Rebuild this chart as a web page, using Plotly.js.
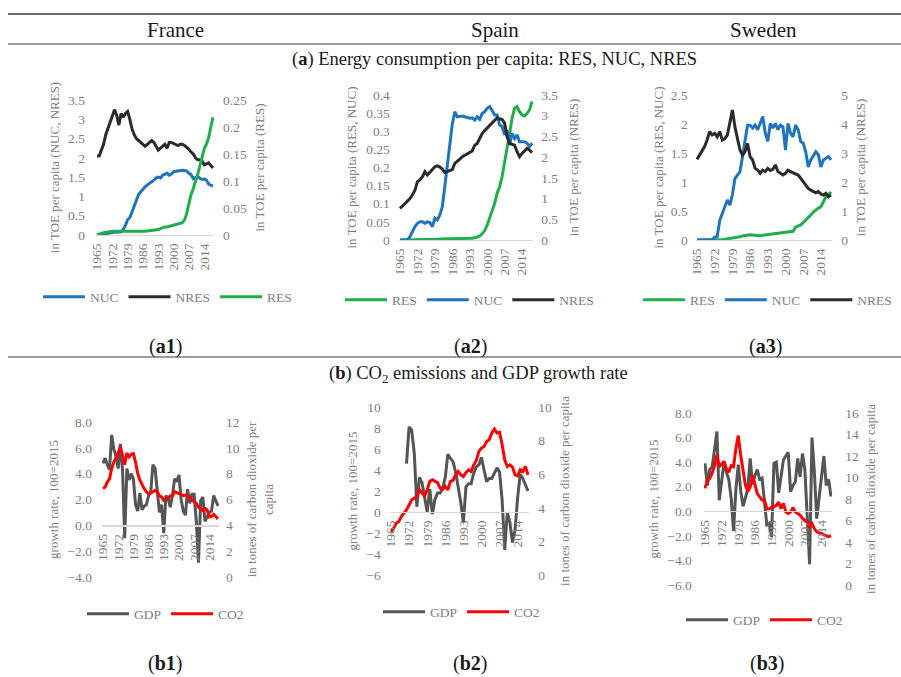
<!DOCTYPE html>
<html>
<head>
<meta charset="utf-8">
<script src="https://cdn.plot.ly/plotly-3.0.1.min.js"></script>
<style>
  html, body { margin: 0; padding: 0; background: #ffffff; }
  #chart { width: 901px; height: 677px; }
</style>
</head>
<body>
<div id="chart"></div>
<script>
// ---- data ---------------------------------------------------------------
const years = [1965,1966,1967,1968,1969,1970,1971,1972,1973,1974,
  1975,1976,1977,1978,1979,1980,1981,1982,1983,1984,
  1985,1986,1987,1988,1989,1990,1991,1992,1993,1994,
  1995,1996,1997,1998,1999,2000,2001,2002,2003,2004,
  2005,2006,2007,2008,2009,2010,2011,2012,2013,2014,
  2015,2016,2017,2018];
const yearTicks = [1965,1972,1979,1986,1993,2000,2007,2014];
const yearTickText = ['1965','1972','1979','1986','1993','2000','2007','2014'];

// France, TOE per capita
const franceNUC = [0.00,0.01,0.02,0.03,0.04,0.05,0.05,0.06,0.07,0.07,
  0.08,0.08,0.15,0.25,0.40,0.45,0.60,0.75,0.90,1.05,
  1.12,1.20,1.25,1.30,1.35,1.38,1.42,1.48,1.50,1.48,
  1.55,1.58,1.60,1.55,1.58,1.64,1.65,1.67,1.68,1.68,
  1.67,1.66,1.60,1.56,1.46,1.48,1.52,1.47,1.44,1.45,
  1.42,1.32,1.30,1.27];
const franceNRES = [2.05,2.05,2.20,2.35,2.60,2.75,2.90,3.05,3.25,3.10,
  2.85,3.15,3.05,3.15,3.20,3.00,2.75,2.60,2.50,2.45,
  2.40,2.35,2.30,2.35,2.40,2.45,2.40,2.30,2.20,2.25,
  2.30,2.35,2.25,2.40,2.40,2.38,2.35,2.32,2.35,2.35,
  2.32,2.28,2.22,2.15,2.10,2.00,1.95,1.95,1.92,1.82,
  1.85,1.87,1.80,1.74];
const franceRES = [0.000,0.002,0.003,0.004,0.005,0.006,0.006,0.007,0.007,0.007,
  0.006,0.006,0.006,0.006,0.006,0.006,0.006,0.006,0.0065,0.0065,
  0.007,0.007,0.007,0.0075,0.008,0.008,0.0085,0.009,0.010,0.012,
  0.014,0.015,0.015,0.016,0.017,0.018,0.019,0.020,0.021,0.023,
  0.028,0.040,0.058,0.075,0.086,0.098,0.112,0.128,0.145,0.160,
  0.168,0.180,0.200,0.218];

// Spain, TOE per capita
const spainRES = [0.000,0.000,0.001,0.001,0.001,0.001,0.001,0.001,0.002,0.002,
  0.002,0.002,0.002,0.002,0.002,0.002,0.003,0.003,0.003,0.003,
  0.003,0.003,0.003,0.003,0.003,0.003,0.003,0.003,0.004,0.005,
  0.006,0.008,0.011,0.017,0.026,0.041,0.060,0.078,0.101,0.129,
  0.147,0.175,0.211,0.257,0.294,0.336,0.363,0.368,0.354,0.345,
  0.342,0.349,0.359,0.382];
const spainNUC = [0.000,0.000,0.000,0.000,0.009,0.023,0.037,0.046,0.050,0.050,
  0.046,0.050,0.048,0.037,0.060,0.055,0.069,0.092,0.152,0.211,
  0.257,0.320,0.354,0.340,0.341,0.342,0.340,0.338,0.336,0.337,
  0.331,0.340,0.333,0.349,0.354,0.363,0.368,0.357,0.345,0.345,
  0.317,0.313,0.290,0.303,0.262,0.294,0.280,0.290,0.271,0.271,
  0.271,0.267,0.257,0.267];
const spainNRES = [0.76,0.82,0.88,0.93,1.00,1.09,1.20,1.41,1.45,1.53,
  1.65,1.57,1.65,1.70,1.77,1.79,1.76,1.71,1.63,1.65,
  1.67,1.70,1.85,1.89,1.95,2.01,2.05,2.09,2.13,2.15,
  2.29,2.33,2.45,2.57,2.64,2.70,2.75,2.82,2.88,2.95,
  2.92,2.91,2.82,2.49,2.33,2.31,2.29,2.13,2.01,2.09,
  2.16,2.21,2.17,2.11];

// Sweden, TOE per capita
const swedenRES = [0.000,0.000,0.000,0.000,0.000,0.000,0.000,0.000,0.000,0.005,
  0.010,0.015,0.020,0.025,0.030,0.035,0.045,0.055,0.070,0.080,
  0.090,0.090,0.085,0.080,0.075,0.075,0.080,0.085,0.090,0.095,
  0.100,0.105,0.110,0.115,0.120,0.130,0.130,0.140,0.150,0.220,
  0.240,0.260,0.300,0.340,0.380,0.430,0.480,0.520,0.550,0.570,
  0.660,0.750,0.780,0.830];
const swedenNUC = [0.00,0.00,0.00,0.00,0.00,0.00,0.00,0.05,0.06,0.34,
  0.46,0.57,0.69,0.60,0.78,1.06,1.12,1.18,1.44,1.72,
  1.98,1.98,1.93,1.98,1.90,2.01,2.13,1.84,1.70,2.01,
  1.93,2.01,1.90,1.98,1.95,1.55,2.01,1.84,1.78,1.98,
  1.90,1.70,1.67,1.52,1.26,1.38,1.44,1.52,1.47,1.26,
  1.38,1.41,1.44,1.38];
const swedenNRES = [2.78,2.93,3.10,3.22,3.45,3.74,3.62,3.68,3.56,3.74,
  3.45,3.50,3.62,4.02,4.48,3.90,3.50,3.10,2.93,3.05,
  3.33,2.87,2.76,2.47,2.41,2.30,2.41,2.36,2.47,2.40,
  2.44,2.59,2.36,2.30,2.24,2.30,2.41,2.36,2.32,2.30,
  2.24,2.13,2.01,1.90,1.78,1.72,1.67,1.63,1.67,1.59,
  1.55,1.61,1.49,1.55];

// GDP growth rate (%) and CO2 (tonnes per capita)
const franceGDP = [4.8,5.2,4.7,4.3,7.0,5.9,5.3,4.4,6.3,4.3,
  -1.0,4.4,3.5,4.0,3.6,1.6,1.1,2.5,1.2,1.5,
  1.6,2.3,2.6,4.7,4.4,2.9,1.0,1.6,-0.6,2.3,
  2.1,1.4,2.3,3.6,3.4,3.9,2.0,1.1,0.8,2.8,
  1.7,2.4,2.4,0.3,-2.9,1.9,2.2,0.3,0.6,1.0,
  1.1,2.3,1.9,1.5];
const franceCO2 = [6.84,6.97,7.35,7.60,8.40,8.90,9.20,9.70,10.06,9.40,
  8.70,9.60,9.30,9.50,9.55,8.90,8.00,7.50,7.10,6.84,
  6.60,6.45,6.50,6.60,6.70,6.60,6.30,6.20,5.94,6.06,
  6.10,6.30,6.30,6.60,6.50,6.45,6.40,6.30,6.35,6.30,
  6.20,5.94,5.80,5.70,5.40,5.30,5.16,5.30,5.20,4.65,
  4.70,4.85,4.65,4.50];
const spainGDP = [null,null,null,null,null,null,4.6,8.1,7.8,5.6,
  0.5,3.3,2.8,1.5,0.0,2.2,-0.2,1.2,1.8,1.8,
  2.3,3.3,5.5,5.1,4.8,3.8,2.5,0.9,-1.0,2.4,
  2.7,2.7,3.7,4.3,4.5,5.2,4.0,2.9,3.2,3.2,
  3.7,4.2,3.8,1.1,-3.6,0.0,-1.0,-2.9,-1.7,1.4,
  3.6,3.2,2.6,2.0];
const spainCO2 = [2.58,2.78,3.08,3.18,3.48,3.68,3.88,4.17,4.47,4.57,
  4.67,5.07,4.87,4.71,5.07,5.57,5.67,5.57,5.50,5.17,
  5.10,5.27,5.07,5.57,5.63,5.96,6.16,5.96,5.86,6.10,
  6.26,6.16,6.56,6.82,7.36,7.55,7.65,7.95,8.05,8.45,
  8.69,8.45,8.49,7.75,6.86,6.46,6.56,6.42,5.96,5.90,
  6.26,6.16,6.46,5.96];
const swedenGDP = [3.9,2.1,3.4,3.6,5.0,6.5,0.9,2.3,4.0,3.2,
  2.6,1.1,-1.6,1.8,3.8,1.7,0.4,1.1,1.8,4.3,
  2.2,2.9,3.4,2.6,2.7,0.8,-1.1,-1.0,-2.1,3.9,
  4.0,1.5,2.9,4.2,4.5,4.8,1.6,2.1,2.4,4.3,
  2.8,4.7,3.4,-0.6,-4.3,6.0,3.2,-0.6,1.2,2.7,
  4.5,2.1,2.6,1.2];
const swedenCO2 = [8.98,9.75,9.90,10.4,11.1,12.1,11.0,11.3,11.5,10.8,
  10.5,11.1,11.0,12.7,13.9,12.1,10.7,9.3,8.7,9.1,
  10.2,9.4,8.5,8.2,7.9,7.9,7.1,7.1,7.2,7.3,
  7.4,7.7,7.1,7.6,6.8,6.65,6.8,7.2,6.8,6.65,
  6.5,6.2,6.0,5.85,5.4,5.7,5.25,4.95,4.85,4.8,
  4.65,4.6,4.5,4.6];

// ---- styling ------------------------------------------------------------
const W = 901, H = 677;
const px2x = p => p / W;
const px2y = p => 1 - p / H;
const SERIF = 'Liberation Serif, Times New Roman, serif';
const GRAY = '#808080';
const C = { NUC: '#1f74bb', NRES: '#2b2b2b', RES: '#1fae4b', GDP: '#555555', CO2: '#ff0000' };
const LW = 3;

// plot boxes in pixels: first/last data point x, top/bottom of value range
const panels = [
  { first: 97,  last: 213, top: 100, bottom: 235 },
  { first: 400, last: 532, top: 95,  bottom: 240 },
  { first: 697, last: 831, top: 95,  bottom: 240 },
  { first: 103, last: 218, top: 422, bottom: 577 },
  { first: 391, last: 528, top: 407, bottom: 575 },
  { first: 705, last: 831, top: 413, bottom: 585 }
];

function xDomain(p) {
  const half = (p.last - p.first) / (years.length - 1) / 2;
  return [px2x(p.first - half), px2x(p.last + half)];
}
function yDomain(p) { return [px2y(p.bottom), px2y(p.top)]; }

const tickFont = { family: SERIF, size: 13.5, color: GRAY };
const titleFont = { family: SERIF, size: 13, color: GRAY };

const layout = {
  width: W, height: H,
  margin: { l: 0, r: 0, t: 0, b: 0 },
  paper_bgcolor: '#ffffff', plot_bgcolor: 'rgba(0,0,0,0)',
  showlegend: true,
  font: { family: SERIF, color: GRAY },
  annotations: [], shapes: []
};

// left/right axis descriptions for each panel
const axisSpec = [
  { left: { range: [0, 3.5], dtick: 0.5, title: 'in TOE per capita (NUC, NRES)', so: 10, ts: 5 },
    right: { range: [0, 0.25], dtick: 0.05, title: 'in TOE per capita (RES)', so: 8, ts: 8 } },
  { left: { range: [0, 0.4], dtick: 0.05, title: 'in TOE per capita (RES, NUC)', so: 8, ts: 6 },
    right: { range: [0, 3.5], dtick: 0.5, title: 'in TOE per capita (NRES)', so: 7, ts: 11 } },
  { left: { range: [0, 2.5], dtick: 0.5, title: 'in TOE per capita (RES, NUC)', so: 7, ts: 4 },
    right: { range: [0, 5], dtick: 1, title: 'in TOE per capita (NRES)', so: 8, ts: 8 } },
  { left: { range: [-4, 8], dtick: 2, fmt: '.1f', title: 'growth rate, 100=2015', so: 9, ts: 5 },
    right: { range: [0, 12], dtick: 2, title: 'in tones of carbon dioxide per<br>capita', so: 6, ts: 8 } },
  { left: { range: [-6, 10], dtick: 2, title: 'growth rate, 100=2015', so: 8, ts: 5 },
    right: { range: [0, 10], dtick: 2, title: 'in tones of carbon dioxide per capita', so: 8, ts: 8 } },
  { left: { range: [-6, 8], dtick: 2, fmt: '.1f', title: 'growth rate, 100=2015', so: 11, ts: 5 },
    right: { range: [0, 16], dtick: 2, title: 'in tones of carbon dioxide per capita', so: 12, ts: 7 } }
];

panels.forEach((p, i) => {
  const n = i + 1;
  const xName = n === 1 ? 'xaxis' : 'xaxis' + n;
  const xId = n === 1 ? 'x' : 'x' + n;
  const yL = 2 * i + 1, yR = 2 * i + 2;
  const yLName = yL === 1 ? 'yaxis' : 'yaxis' + yL;
  const yLId = yL === 1 ? 'y' : 'y' + yL;
  const yRName = 'yaxis' + yR;
  const spec = axisSpec[i];
  const yd = yDomain(p);

  const xa = {
    domain: xDomain(p), range: [1964.5, 2018.5], type: 'linear',
    tickvals: yearTicks, ticktext: yearTickText, tickangle: -90,
    tickfont: tickFont, showgrid: false, zeroline: false,
    showline: true, linecolor: '#d9d9d9', linewidth: 1.2,
    ticks: '', ticklabelstandoff: 2, fixedrange: true
  };
  if (spec.left.range[0] < 0) {
    // year labels sit on the zero line of the growth-rate axis
    const r = spec.left.range;
    xa.anchor = 'free';
    xa.position = yd[0] + (0 - r[0]) / (r[1] - r[0]) * (yd[1] - yd[0]);
  } else {
    xa.anchor = yLId;
  }
  layout[xName] = xa;

  layout[yLName] = {
    domain: yd, anchor: xId, side: 'left', range: spec.left.range, dtick: spec.left.dtick,
    tickformat: spec.left.fmt || '', tickfont: tickFont,
    showgrid: false, zeroline: false, showline: false, ticks: '',
    ticklabelstandoff: spec.left.so,
    title: { text: spec.left.title, font: titleFont, standoff: spec.left.ts },
    fixedrange: true
  };
  layout[yRName] = {
    overlaying: yLId, anchor: xId, side: 'right', range: spec.right.range, dtick: spec.right.dtick,
    tickfont: tickFont, showgrid: false, zeroline: false, showline: false, ticks: '',
    ticklabelstandoff: spec.right.so,
    title: { text: spec.right.title, font: titleFont, standoff: spec.right.ts },
    fixedrange: true
  };
});

// ---- traces ---------------------------------------------------------------
function line(name, ys, color, xId, yId, legend) {
  return { type: 'scatter', mode: 'lines', name: name, x: years, y: ys,
    xaxis: xId, yaxis: yId, legend: legend, connectgaps: false,
    line: { color: color, width: LW }, hoverinfo: 'skip' };
}
const data = [
  line('NUC', franceNUC, C.NUC, 'x', 'y', 'legend'),
  line('NRES', franceNRES, C.NRES, 'x', 'y', 'legend'),
  line('RES', franceRES, C.RES, 'x', 'y2', 'legend'),

  line('RES', spainRES, C.RES, 'x2', 'y3', 'legend2'),
  line('NUC', spainNUC, C.NUC, 'x2', 'y3', 'legend2'),
  line('NRES', spainNRES, C.NRES, 'x2', 'y4', 'legend2'),

  line('RES', swedenRES, C.RES, 'x3', 'y5', 'legend3'),
  line('NUC', swedenNUC, C.NUC, 'x3', 'y5', 'legend3'),
  line('NRES', swedenNRES, C.NRES, 'x3', 'y6', 'legend3'),

  line('GDP', franceGDP, C.GDP, 'x4', 'y7', 'legend4'),
  line('CO2', franceCO2, C.CO2, 'x4', 'y8', 'legend4'),

  line('GDP', spainGDP, C.GDP, 'x5', 'y9', 'legend5'),
  line('CO2', spainCO2, C.CO2, 'x5', 'y10', 'legend5'),

  line('GDP', swedenGDP, C.GDP, 'x6', 'y11', 'legend6'),
  line('CO2', swedenCO2, C.CO2, 'x6', 'y12', 'legend6')
];

// ---- legends ----------------------------------------------------------------
const legendPos = [
  { x: 38, y: 297 }, { x: 340, y: 300 }, { x: 638, y: 300 },
  { x: 82, y: 614 }, { x: 378, y: 612 }, { x: 681, y: 620 }
];
legendPos.forEach((lp, i) => {
  const key = i === 0 ? 'legend' : 'legend' + (i + 1);
  layout[key] = {
    orientation: 'h', x: px2x(lp.x), y: px2y(lp.y), xanchor: 'left', yanchor: 'middle',
    xref: 'paper', yref: 'paper', bgcolor: 'rgba(0,0,0,0)', borderwidth: 0,
    font: { family: SERIF, size: 13.5, color: GRAY }, itemwidth: 42,
    itemclick: false, itemdoubleclick: false, traceorder: 'normal'
  };
});

// ---- table header, captions and rules ------------------------------------------
function text(t, x, y, size, color) {
  return { text: t, x: px2x(x), y: px2y(y), xref: 'paper', yref: 'paper',
    xanchor: 'center', yanchor: 'middle', showarrow: false,
    font: { family: SERIF, size: size, color: color || '#1a1a1a' } };
}
layout.annotations.push(
  text('France', 175, 30, 21),
  text('Spain', 495, 30, 21),
  text('Sweden', 763, 30, 21),
  text('(<b>a</b>) Energy consumption per capita: RES, NUC, NRES', 494, 60, 18.5),
  text('(<b>a1</b>)', 165, 346, 20),
  text('(<b>a2</b>)', 470, 346, 20),
  text('(<b>a3</b>)', 765, 346, 20),
  text('(<b>b</b>) CO<sub>2</sub> emissions and GDP growth rate', 478, 374, 18.5),
  text('(<b>b1</b>)', 165, 663, 20),
  text('(<b>b2</b>)', 470, 663, 20),
  text('(<b>b3</b>)', 767, 663, 20)
);
function rule(y, w) {
  return { type: 'line', xref: 'paper', yref: 'paper', x0: px2x(8), x1: 1, y0: px2y(y), y1: px2y(y),
    line: { color: '#3a3a3a', width: w } };
}
layout.shapes.push(rule(14, 1.5), rule(44, 1), rule(357, 1));

Plotly.newPlot('chart', data, layout, { staticPlot: true, displayModeBar: false });
</script>
</body>
</html>
